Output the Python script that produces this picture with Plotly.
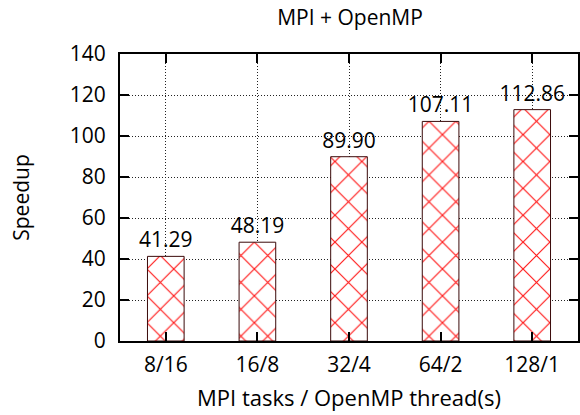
import plotly.graph_objects as go

# Speedup for the hybrid MPI + OpenMP configurations
configs = ["8/16", "16/8", "32/4", "64/2", "128/1"]
speedup = [41.29, 48.19, 89.90, 107.11, 112.86]
y_ticks = [0, 20, 40, 60, 80, 100, 120, 140]

FONT = "Open Sans"
FS = 21

fig = go.Figure(
    go.Bar(
        x=configs,
        y=speedup,
        width=0.4,
        marker=dict(
            color="white",
            line=dict(color="#3a0a0a", width=1),
            pattern=dict(shape="x", fgcolor="#ff1a1a", fgopacity=1, bgcolor="white",
                         size=19, solidity=0.12, fillmode="overlay"),
        ),
        texttemplate="%{y:.2f}",
        textposition="outside",
        constraintext="none",
        textfont=dict(family=FONT, size=FS, color="black"),
        cliponaxis=False,
    )
)

axis_common = dict(
    showline=True, linecolor="black", linewidth=2,
    mirror="ticks", ticks="inside", ticklen=9, tickwidth=2, tickcolor="black",
    showgrid=True, gridcolor="#222", griddash="1px,2px", gridwidth=1,
    zeroline=False,
    tickfont=dict(family=FONT, size=FS, color="black"),
)

fig.update_layout(
    width=580, height=415,
    margin=dict(l=120, r=0, t=54, b=74),
    paper_bgcolor="white", plot_bgcolor="white",
    showlegend=False,
    title=dict(text="MPI + OpenMP", x=0.6035, xanchor="center", y=0.957, yanchor="middle",
               font=dict(family=FONT, size=FS, color="black")),
    xaxis=dict(range=[-0.5, 4.5], ticklabelstandoff=4,
               title=dict(text="MPI tasks / OpenMP thread(s)",
                          font=dict(family=FONT, size=FS + 1, color="black"), standoff=13),
               **axis_common),
    yaxis=dict(range=[0, 140], tickvals=y_ticks, ticklabelstandoff=8,
               title=dict(text="Speedup", font=dict(family=FONT, size=FS, color="black"), standoff=34),
               **axis_common),
)

fig.write_html("out.html")
